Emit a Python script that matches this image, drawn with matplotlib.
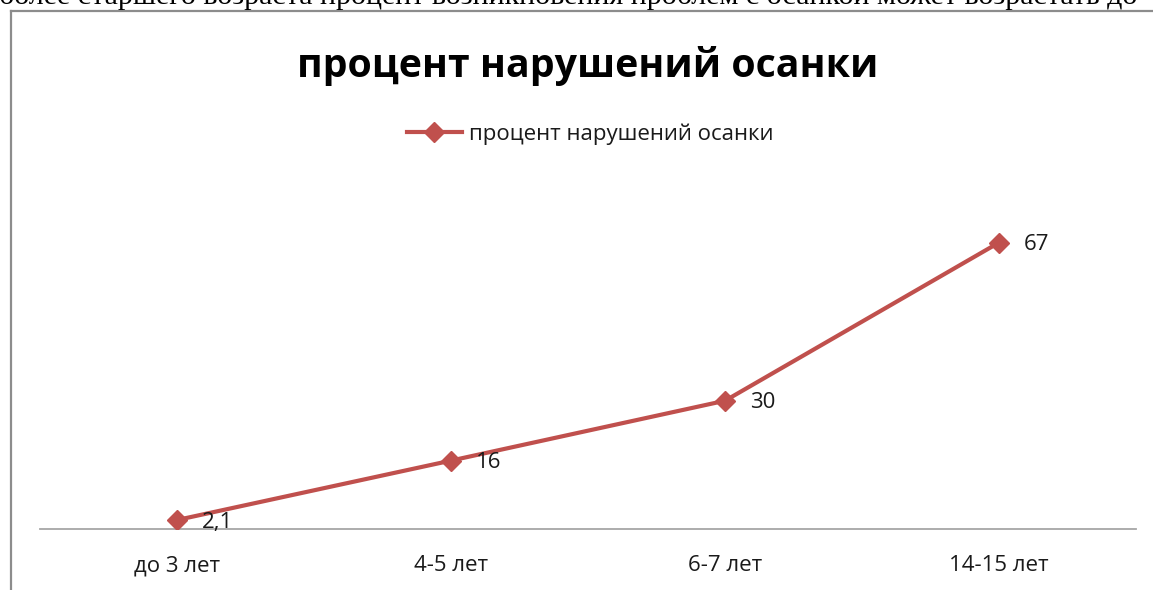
import matplotlib
matplotlib.use("Agg")
import matplotlib.pyplot as plt
from matplotlib.lines import Line2D

categories = ["до 3 лет", "4-5 лет", "6-7 лет", "14-15 лет"]
values = [2.1, 16, 30, 67]
series_name = "процент нарушений осанки"
title = "процент нарушений осанки"
top_text = "более старшего возраста процент возникновения проблем с осанкой может возрастать до"

W, H = 1153, 590
fig = plt.figure(figsize=(W / 100, H / 100), dpi=100)
fig.patch.set_facecolor("white")

def fx(px):
    return px / W

def fy(py):
    return 1 - py / H

# text cut off above the chart frame
fig.text(fx(-1), fy(4), top_text, family="Liberation Serif", fontsize=21.6,
         color="black", ha="left", va="baseline")

# chart frame (left and top edges visible)
fig.add_artist(Line2D([fx(11), fx(11)], [fy(11), fy(H + 10)], color="#8c8c8c", lw=1.6))
fig.add_artist(Line2D([fx(11), fx(W + 10)], [fy(11), fy(11)], color="#8c8c8c", lw=1.6))

ax = fig.add_axes([fx(40), fy(529), fx(1136) - fx(40), fy(187) - fy(529)])
ax.set_facecolor("none")
x = list(range(len(categories)))
color = "#C0504D"
ax.plot(x, values, color=color, lw=3.0, marker="D", markersize=10.5,
        markerfacecolor=color, markeredgecolor=color, label=series_name, zorder=3)
ax.set_xlim(-0.5, len(categories) - 0.5)
ax.set_ylim(0, 80)
for s in ["left", "right", "top"]:
    ax.spines[s].set_visible(False)
ax.spines["bottom"].set_color("#a6a6a6")
ax.spines["bottom"].set_linewidth(1.3)
ax.set_yticks([])
ax.set_xticks(x)
ax.set_xticklabels(categories, family="Open Sans", fontsize=16, color="#1a1a1a")
ax.tick_params(axis="x", length=0, pad=19)

for xi, v in zip(x, values):
    lab = ("%g" % v).replace(".", ",")
    ax.annotate(lab, (xi, v), xytext=(25, -2), textcoords="offset pixels",
                ha="left", va="center", family="Open Sans", fontsize=16, color="#1a1a1a")

fig.text(fx(587.5), fy(77), title, family="Open Sans", fontweight="bold",
         fontsize=28.3, ha="center", va="baseline", color="black")

leg = fig.legend(handles=ax.get_lines(), labels=[series_name], loc="center",
                 bbox_to_anchor=(fx(590), fy(134)), frameon=False,
                 prop={"family": "Open Sans", "size": 16}, handlelength=2.5,
                 handletextpad=0.3, borderpad=0, borderaxespad=0)
for t in leg.get_texts():
    t.set_color("#1a1a1a")

fig.savefig("out.png", dpi=100, facecolor="white")
